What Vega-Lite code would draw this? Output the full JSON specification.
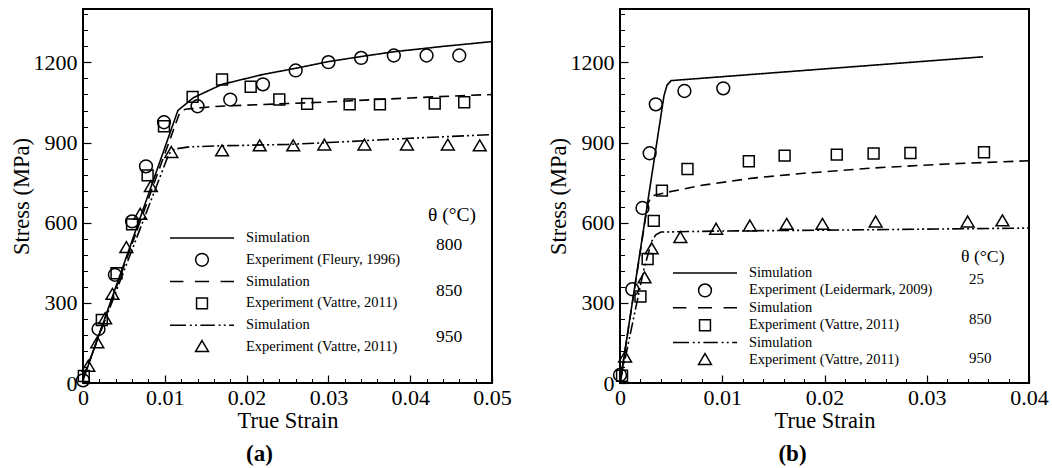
{
  "$schema": "https://vega.github.io/schema/vega-lite/v6.json",
  "background": "white",
  "padding": {"left": 9, "top": 8, "right": 5, "bottom": 0},
  "bounds": "flush",
  "spacing": 128,
  "config": {
    "view": {"stroke": "black", "strokeWidth": 2},
    "font": "Liberation Serif",
    "axis": {"domain": false, "grid": false, "tickColor": "black", "labelColor": "black", "titleColor": "black", "labelFont": "Liberation Serif", "titleFont": "Liberation Serif", "titleFontWeight": "normal", "labelFlush": false, "labelOverlap": false}
  },
  "datasets": {
    "a_sim": [
      {"series": "s800", "temp": "800", "strain": 0, "stress": 10},
      {"series": "s800", "temp": "800", "strain": 0.0116, "stress": 1020},
      {"series": "s800", "temp": "800", "strain": 0.0135, "stress": 1068},
      {"series": "s800", "temp": "800", "strain": 0.017, "stress": 1118},
      {"series": "s800", "temp": "800", "strain": 0.022, "stress": 1155},
      {"series": "s800", "temp": "800", "strain": 0.026, "stress": 1178},
      {"series": "s800", "temp": "800", "strain": 0.03, "stress": 1203},
      {"series": "s800", "temp": "800", "strain": 0.034, "stress": 1222},
      {"series": "s800", "temp": "800", "strain": 0.038, "stress": 1240},
      {"series": "s800", "temp": "800", "strain": 0.044, "stress": 1260},
      {"series": "s800", "temp": "800", "strain": 0.05, "stress": 1278},
      {"series": "s850", "temp": "850", "strain": 0, "stress": 15},
      {"series": "s850", "temp": "850", "strain": 0.0118, "stress": 1010},
      {"series": "s850", "temp": "850", "strain": 0.0125, "stress": 1025},
      {"series": "s850", "temp": "850", "strain": 0.016, "stress": 1035},
      {"series": "s850", "temp": "850", "strain": 0.02, "stress": 1040},
      {"series": "s850", "temp": "850", "strain": 0.025, "stress": 1046},
      {"series": "s850", "temp": "850", "strain": 0.03, "stress": 1052},
      {"series": "s850", "temp": "850", "strain": 0.035, "stress": 1060},
      {"series": "s850", "temp": "850", "strain": 0.04, "stress": 1067},
      {"series": "s850", "temp": "850", "strain": 0.045, "stress": 1074},
      {"series": "s850", "temp": "850", "strain": 0.05, "stress": 1080},
      {"series": "s950", "temp": "950", "strain": 0, "stress": 20},
      {"series": "s950", "temp": "950", "strain": 0.0105, "stress": 858},
      {"series": "s950", "temp": "950", "strain": 0.0112, "stress": 876},
      {"series": "s950", "temp": "950", "strain": 0.013, "stress": 884},
      {"series": "s950", "temp": "950", "strain": 0.017, "stress": 888},
      {"series": "s950", "temp": "950", "strain": 0.025, "stress": 893},
      {"series": "s950", "temp": "950", "strain": 0.03, "stress": 900},
      {"series": "s950", "temp": "950", "strain": 0.035, "stress": 908},
      {"series": "s950", "temp": "950", "strain": 0.04, "stress": 916},
      {"series": "s950", "temp": "950", "strain": 0.045, "stress": 923},
      {"series": "s950", "temp": "950", "strain": 0.05, "stress": 930}
    ],
    "a_exp": [
      {"series": "e800", "temp": "800", "strain": 0.0, "stress": 10},
      {"series": "e800", "temp": "800", "strain": 0.0019, "stress": 202},
      {"series": "e800", "temp": "800", "strain": 0.0039, "stress": 405},
      {"series": "e800", "temp": "800", "strain": 0.006, "stress": 605},
      {"series": "e800", "temp": "800", "strain": 0.0077, "stress": 811},
      {"series": "e800", "temp": "800", "strain": 0.0099, "stress": 976},
      {"series": "e800", "temp": "800", "strain": 0.014, "stress": 1036},
      {"series": "e800", "temp": "800", "strain": 0.018, "stress": 1061},
      {"series": "e800", "temp": "800", "strain": 0.022, "stress": 1118},
      {"series": "e800", "temp": "800", "strain": 0.026, "stress": 1170},
      {"series": "e800", "temp": "800", "strain": 0.03, "stress": 1201},
      {"series": "e800", "temp": "800", "strain": 0.034, "stress": 1217},
      {"series": "e800", "temp": "800", "strain": 0.038, "stress": 1226},
      {"series": "e800", "temp": "800", "strain": 0.042, "stress": 1226},
      {"series": "e800", "temp": "800", "strain": 0.046, "stress": 1226},
      {"series": "e850", "temp": "850", "strain": 0.0001, "stress": 26},
      {"series": "e850", "temp": "850", "strain": 0.0023, "stress": 236},
      {"series": "e850", "temp": "850", "strain": 0.0041, "stress": 411},
      {"series": "e850", "temp": "850", "strain": 0.006, "stress": 594},
      {"series": "e850", "temp": "850", "strain": 0.0079, "stress": 777},
      {"series": "e850", "temp": "850", "strain": 0.0099, "stress": 961},
      {"series": "e850", "temp": "850", "strain": 0.0134, "stress": 1071},
      {"series": "e850", "temp": "850", "strain": 0.017, "stress": 1136},
      {"series": "e850", "temp": "850", "strain": 0.0205, "stress": 1109},
      {"series": "e850", "temp": "850", "strain": 0.024, "stress": 1061},
      {"series": "e850", "temp": "850", "strain": 0.0274, "stress": 1045},
      {"series": "e850", "temp": "850", "strain": 0.0326, "stress": 1043},
      {"series": "e850", "temp": "850", "strain": 0.0363, "stress": 1043},
      {"series": "e850", "temp": "850", "strain": 0.043, "stress": 1046},
      {"series": "e850", "temp": "850", "strain": 0.0466, "stress": 1051},
      {"series": "e950", "temp": "950", "strain": 0.00065, "stress": 61},
      {"series": "e950", "temp": "950", "strain": 0.00175, "stress": 149},
      {"series": "e950", "temp": "950", "strain": 0.0027, "stress": 239},
      {"series": "e950", "temp": "950", "strain": 0.0036, "stress": 330},
      {"series": "e950", "temp": "950", "strain": 0.0053, "stress": 505},
      {"series": "e950", "temp": "950", "strain": 0.007, "stress": 630},
      {"series": "e950", "temp": "950", "strain": 0.0083, "stress": 734},
      {"series": "e950", "temp": "950", "strain": 0.0108, "stress": 861},
      {"series": "e950", "temp": "950", "strain": 0.017, "stress": 867},
      {"series": "e950", "temp": "950", "strain": 0.0216, "stress": 886},
      {"series": "e950", "temp": "950", "strain": 0.0257, "stress": 886},
      {"series": "e950", "temp": "950", "strain": 0.0295, "stress": 889},
      {"series": "e950", "temp": "950", "strain": 0.0344, "stress": 889},
      {"series": "e950", "temp": "950", "strain": 0.0396, "stress": 889},
      {"series": "e950", "temp": "950", "strain": 0.0446, "stress": 889},
      {"series": "e950", "temp": "950", "strain": 0.0485, "stress": 886}
    ],
    "b_sim": [
      {"series": "s25", "temp": "25", "strain": 0, "stress": 0},
      {"series": "s25", "temp": "25", "strain": 0.0043, "stress": 1075},
      {"series": "s25", "temp": "25", "strain": 0.0046, "stress": 1115},
      {"series": "s25", "temp": "25", "strain": 0.005, "stress": 1132},
      {"series": "s25", "temp": "25", "strain": 0.0355, "stress": 1221},
      {"series": "s850", "temp": "850", "strain": 0, "stress": 0},
      {"series": "s850", "temp": "850", "strain": 0.0027, "stress": 670},
      {"series": "s850", "temp": "850", "strain": 0.0031, "stress": 700},
      {"series": "s850", "temp": "850", "strain": 0.0045, "stress": 713},
      {"series": "s850", "temp": "850", "strain": 0.008, "stress": 740},
      {"series": "s850", "temp": "850", "strain": 0.013, "stress": 767},
      {"series": "s850", "temp": "850", "strain": 0.018, "stress": 785},
      {"series": "s850", "temp": "850", "strain": 0.0248, "stress": 805},
      {"series": "s850", "temp": "850", "strain": 0.032, "stress": 820},
      {"series": "s850", "temp": "850", "strain": 0.04, "stress": 832},
      {"series": "s950", "temp": "950", "strain": 0, "stress": 0},
      {"series": "s950", "temp": "950", "strain": 0.0023, "stress": 420},
      {"series": "s950", "temp": "950", "strain": 0.0028, "stress": 490},
      {"series": "s950", "temp": "950", "strain": 0.0031, "stress": 530},
      {"series": "s950", "temp": "950", "strain": 0.0035, "stress": 555},
      {"series": "s950", "temp": "950", "strain": 0.004, "stress": 565},
      {"series": "s950", "temp": "950", "strain": 0.01, "stress": 569},
      {"series": "s950", "temp": "950", "strain": 0.02, "stress": 572},
      {"series": "s950", "temp": "950", "strain": 0.03, "stress": 576},
      {"series": "s950", "temp": "950", "strain": 0.04, "stress": 580}
    ],
    "b_exp": [
      {"series": "e25", "temp": "25", "strain": 0.0, "stress": 30},
      {"series": "e25", "temp": "25", "strain": 0.0012, "stress": 351},
      {"series": "e25", "temp": "25", "strain": 0.0022, "stress": 655},
      {"series": "e25", "temp": "25", "strain": 0.0029, "stress": 860},
      {"series": "e25", "temp": "25", "strain": 0.0035, "stress": 1043},
      {"series": "e25", "temp": "25", "strain": 0.0063, "stress": 1093},
      {"series": "e25", "temp": "25", "strain": 0.0101, "stress": 1103},
      {"series": "e850", "temp": "850", "strain": 0.0002, "stress": 27},
      {"series": "e850", "temp": "850", "strain": 0.002, "stress": 324},
      {"series": "e850", "temp": "850", "strain": 0.0027, "stress": 464},
      {"series": "e850", "temp": "850", "strain": 0.0033, "stress": 607},
      {"series": "e850", "temp": "850", "strain": 0.0041, "stress": 720},
      {"series": "e850", "temp": "850", "strain": 0.0066, "stress": 801},
      {"series": "e850", "temp": "850", "strain": 0.0126, "stress": 830},
      {"series": "e850", "temp": "850", "strain": 0.0161, "stress": 851},
      {"series": "e850", "temp": "850", "strain": 0.0212, "stress": 855},
      {"series": "e850", "temp": "850", "strain": 0.0248, "stress": 859},
      {"series": "e850", "temp": "850", "strain": 0.0284, "stress": 861},
      {"series": "e850", "temp": "850", "strain": 0.0356, "stress": 864},
      {"series": "e950", "temp": "950", "strain": 0.0005, "stress": 95},
      {"series": "e950", "temp": "950", "strain": 0.0024, "stress": 392},
      {"series": "e950", "temp": "950", "strain": 0.0031, "stress": 501},
      {"series": "e950", "temp": "950", "strain": 0.0059, "stress": 543},
      {"series": "e950", "temp": "950", "strain": 0.0094, "stress": 574},
      {"series": "e950", "temp": "950", "strain": 0.0127, "stress": 586},
      {"series": "e950", "temp": "950", "strain": 0.0163, "stress": 592},
      {"series": "e950", "temp": "950", "strain": 0.0198, "stress": 592},
      {"series": "e950", "temp": "950", "strain": 0.025, "stress": 601},
      {"series": "e950", "temp": "950", "strain": 0.034, "stress": 601},
      {"series": "e950", "temp": "950", "strain": 0.0374, "stress": 605}
    ]
  },
  "resolve": {
    "scale": {"x": "independent", "y": "independent", "color": "independent", "shape": "independent", "strokeDash": "independent"},
    "legend": {"color": "independent", "shape": "independent"}
  },
  "hconcat": [
    {
      "width": 409,
      "height": 374,
      "title": {"text": "(a)", "orient": "bottom", "font": "Liberation Serif", "fontWeight": "bold", "fontSize": 23, "offset": 11, "dx": -28, "anchor": "middle", "color": "black"},
      "layer": [
        {
          "data": {"name": "a_sim"},
          "mark": {"type": "line", "strokeWidth": 1.6, "color": "black"},
          "encoding": {
            "x": {"field": "strain", "type": "quantitative", "scale": {"domain": [0, 0.05], "nice": false},
              "axis": {"orient": "bottom", "values": [0, 0.01, 0.02, 0.03, 0.04, 0.05], "format": "~g", "title": "True Strain", "tickSize": -8, "tickWidth": 1.2, "labelPadding": 12, "labelFontSize": 22, "titleFontSize": 22.5, "titlePadding": 1}},
            "y": {"field": "stress", "type": "quantitative", "scale": {"domain": [0, 1400], "nice": false},
              "axis": {"orient": "left", "values": [0, 300, 600, 900, 1200], "format": "d", "title": "Stress (MPa)", "tickSize": -8, "tickWidth": 1.2, "labelPadding": 14, "labelFontSize": 22, "titleFontSize": 22.5, "titlePadding": 0}},
            "strokeDash": {"field": "series", "type": "nominal", "scale": {"domain": ["s800", "s850", "s950"], "range": [[1, 0], [10, 6], [12, 3, 2, 3, 2, 3]]}, "legend": null},
            "color": {"field": "temp", "type": "nominal", "scale": {"domain": ["800", "850", "950"], "range": ["black", "black", "black"]},
              "legend": {"orient": "none", "legendX": 345, "legendY": 197, "title": "θ (°C)", "titleFont": "Liberation Serif", "titleFontSize": 19.5, "titleFontWeight": "normal", "titleColor": "black", "titlePadding": 4.5, "labelFont": "Liberation Serif", "labelFontSize": 17.5, "labelColor": "black", "labelOffset": -9.5, "symbolSize": 0, "symbolStrokeWidth": 0, "symbolOpacity": 0, "clipHeight": 30, "rowPadding": 16, "padding": 0, "direction": "vertical"}}
          }
        },
        {
          "data": {"name": "a_exp"},
          "mark": {"type": "point", "filled": false, "size": 4096, "strokeWidth": 1.5, "color": "black", "opacity": 1},
          "encoding": {
            "x": {"field": "strain", "type": "quantitative",
              "axis": {"orient": "bottom", "values": [0.002, 0.004, 0.006, 0.008, 0.012, 0.014, 0.016, 0.018, 0.022, 0.024, 0.026, 0.028, 0.032, 0.034, 0.036, 0.038, 0.042, 0.044, 0.046, 0.048], "labels": false, "title": null, "tickSize": -4.5, "tickWidth": 1}},
            "y": {"field": "stress", "type": "quantitative",
              "axis": {"orient": "left", "values": [60, 120, 180, 240, 360, 420, 480, 540, 660, 720, 780, 840, 960, 1020, 1080, 1140, 1260, 1320, 1380], "labels": false, "title": null, "tickSize": -4.5, "tickWidth": 1}},
            "shape": {"field": "series", "type": "nominal",
              "scale": {"domain": ["s800", "e800", "s850", "e850", "s950", "e950"],
                "range": ["M-1,0H1", "M-0.2,0A0.2,0.2,0,1,1,0.2,0A0.2,0.2,0,1,1,-0.2,0Z", "M-1,0H-0.58M-0.22,0H0.22M0.58,0H1", "M-0.17,-0.17H0.17V0.17H-0.17Z", "M-1,0H-0.5M-0.38,0H-0.32M-0.22,0H-0.16M-0.05,0H0.4M0.52,0H0.58M0.68,0H0.74M0.85,0H1", "M0,-0.2L0.2,0.14L-0.2,0.14Z"]},
              "legend": {"orient": "none", "legendX": 86, "legendY": 219, "title": null, "labelFont": "Liberation Serif", "labelFontSize": 14.5, "labelColor": "black", "labelOffset": 11, "labelLimit": 400, "symbolSize": 4096, "symbolStrokeWidth": 1.5, "symbolStrokeColor": "black", "symbolFillColor": "transparent", "symbolOpacity": 1, "clipHeight": 20, "rowPadding": 1.8, "padding": 0, "direction": "vertical",
                "labelExpr": "substring(datum.value, 0, 1) == 's' ? 'Simulation' : (datum.value == 'e800' ? 'Experiment (Fleury, 1996)' : 'Experiment (Vattre, 2011)')",
                "encode": {"symbols": {"update": {"stroke": {"value": "black"}, "fill": {"value": "transparent"}, "strokeWidth": {"value": 1.5}, "opacity": {"value": 1}}}}}},
            "color": {"field": "temp", "type": "nominal", "scale": {"domain": ["800", "850", "950"], "range": ["black", "black", "black"]},
              "legend": {"orient": "none", "legendX": 345, "legendY": 197, "title": "θ (°C)", "titleFont": "Liberation Serif", "titleFontSize": 19.5, "titleFontWeight": "normal", "titleColor": "black", "titlePadding": 4.5, "labelFont": "Liberation Serif", "labelFontSize": 17.5, "labelColor": "black", "labelOffset": -9.5, "symbolSize": 0, "symbolStrokeWidth": 0, "symbolOpacity": 0, "clipHeight": 30, "rowPadding": 16, "padding": 0, "direction": "vertical"}}
          }
        }
      ],
      "resolve": {"axis": {"x": "independent", "y": "independent"}}
    },
    {
      "width": 409,
      "height": 374,
      "title": {"text": "(b)", "orient": "bottom", "font": "Liberation Serif", "fontWeight": "bold", "fontSize": 23, "offset": 11, "dx": -32, "anchor": "middle", "color": "black"},
      "layer": [
        {
          "data": {"name": "b_sim"},
          "mark": {"type": "line", "strokeWidth": 1.6, "color": "black"},
          "encoding": {
            "x": {"field": "strain", "type": "quantitative", "scale": {"domain": [0, 0.04], "nice": false},
              "axis": {"orient": "bottom", "values": [0, 0.01, 0.02, 0.03, 0.04], "format": "~g", "title": "True Strain", "tickSize": -8, "tickWidth": 1.2, "labelPadding": 12, "labelFontSize": 22, "titleFontSize": 22.5, "titlePadding": 1}},
            "y": {"field": "stress", "type": "quantitative", "scale": {"domain": [0, 1400], "nice": false},
              "axis": {"orient": "left", "values": [0, 300, 600, 900, 1200], "format": "d", "title": "Stress (MPa)", "tickSize": -8, "tickWidth": 1.2, "labelPadding": 14, "labelFontSize": 22, "titleFontSize": 22.5, "titlePadding": 0}},
            "strokeDash": {"field": "series", "type": "nominal", "scale": {"domain": ["s25", "s850", "s950"], "range": [[1, 0], [10, 6], [12, 3, 2, 3, 2, 3]]}, "legend": null},
            "color": {"field": "temp", "type": "nominal", "scale": {"domain": ["25", "850", "950"], "range": ["black", "black", "black"]},
              "legend": {"orient": "none", "legendX": 341, "legendY": 239, "title": "θ (°C)", "titleFont": "Liberation Serif", "titleFontSize": 17.7, "titleFontWeight": "normal", "titleColor": "black", "titlePadding": 1.3, "labelFont": "Liberation Serif", "labelFontSize": 15, "labelColor": "black", "labelOffset": -7, "symbolSize": 0, "symbolStrokeWidth": 0, "symbolOpacity": 0, "clipHeight": 24, "rowPadding": 15.5, "padding": 0, "direction": "vertical"}}
          }
        },
        {
          "data": {"name": "b_exp"},
          "mark": {"type": "point", "filled": false, "size": 4096, "strokeWidth": 1.5, "color": "black", "opacity": 1},
          "encoding": {
            "x": {"field": "strain", "type": "quantitative",
              "axis": {"orient": "bottom", "values": [0.002, 0.004, 0.006, 0.008, 0.012, 0.014, 0.016, 0.018, 0.022, 0.024, 0.026, 0.028, 0.032, 0.034, 0.036, 0.038], "labels": false, "title": null, "tickSize": -4.5, "tickWidth": 1}},
            "y": {"field": "stress", "type": "quantitative",
              "axis": {"orient": "left", "values": [60, 120, 180, 240, 360, 420, 480, 540, 660, 720, 780, 840, 960, 1020, 1080, 1140, 1260, 1320, 1380], "labels": false, "title": null, "tickSize": -4.5, "tickWidth": 1}},
            "shape": {"field": "series", "type": "nominal",
              "scale": {"domain": ["s25", "e25", "s850", "e850", "s950", "e950"],
                "range": ["M-1,0H1", "M-0.2,0A0.2,0.2,0,1,1,0.2,0A0.2,0.2,0,1,1,-0.2,0Z", "M-1,0H-0.58M-0.22,0H0.22M0.58,0H1", "M-0.17,-0.17H0.17V0.17H-0.17Z", "M-1,0H-0.5M-0.38,0H-0.32M-0.22,0H-0.16M-0.05,0H0.4M0.52,0H0.58M0.68,0H0.74M0.85,0H1", "M0,-0.2L0.2,0.14L-0.2,0.14Z"]},
              "legend": {"orient": "none", "legendX": 52, "legendY": 256, "title": null, "labelFont": "Liberation Serif", "labelFontSize": 14.4, "labelColor": "black", "labelOffset": 11, "labelLimit": 400, "symbolSize": 4096, "symbolStrokeWidth": 1.5, "symbolStrokeColor": "black", "symbolFillColor": "transparent", "symbolOpacity": 1, "clipHeight": 16, "rowPadding": 1.4, "padding": 0, "direction": "vertical",
                "labelExpr": "substring(datum.value, 0, 1) == 's' ? 'Simulation' : (datum.value == 'e25' ? 'Experiment (Leidermark, 2009)' : 'Experiment (Vattre, 2011)')",
                "encode": {"symbols": {"update": {"stroke": {"value": "black"}, "fill": {"value": "transparent"}, "strokeWidth": {"value": 1.5}, "opacity": {"value": 1}}}}}},
            "color": {"field": "temp", "type": "nominal", "scale": {"domain": ["25", "850", "950"], "range": ["black", "black", "black"]},
              "legend": {"orient": "none", "legendX": 341, "legendY": 239, "title": "θ (°C)", "titleFont": "Liberation Serif", "titleFontSize": 17.7, "titleFontWeight": "normal", "titleColor": "black", "titlePadding": 1.3, "labelFont": "Liberation Serif", "labelFontSize": 15, "labelColor": "black", "labelOffset": -7, "symbolSize": 0, "symbolStrokeWidth": 0, "symbolOpacity": 0, "clipHeight": 24, "rowPadding": 15.5, "padding": 0, "direction": "vertical"}}
          }
        }
      ],
      "resolve": {"axis": {"x": "independent", "y": "independent"}}
    }
  ]
}
